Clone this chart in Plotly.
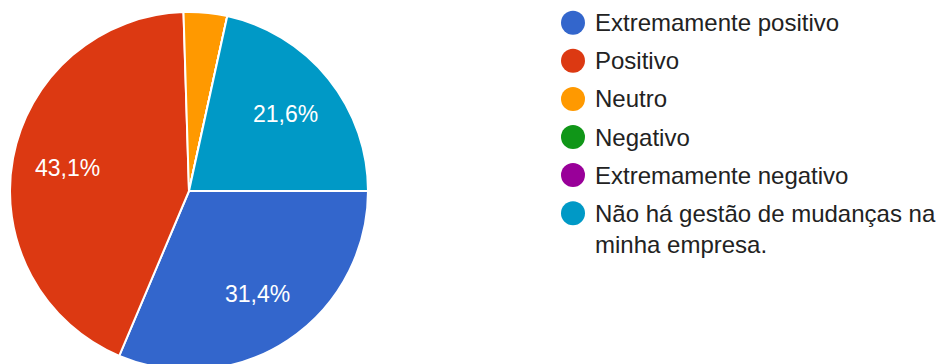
import math
import plotly.graph_objects as go

labels = ["Extremamente positivo", "Positivo", "Neutro", "Negativo",
          "Extremamente negativo", "Não há gestão de mudanças na minha empresa."]
legend_text = ["Extremamente positivo", "Positivo", "Neutro", "Negativo",
               "Extremamente negativo", "Não há gestão de mudanças na<br>minha empresa."]
counts = [16, 22, 2, 0, 0, 11]
colors = ["#3366cc", "#dc3912", "#ff9900", "#109618", "#990099", "#0099c6"]

FONT = "Arial, 'Liberation Sans', sans-serif"

# figure slightly taller than the window: the pie is cut at the bottom like the original
W, H = 938, 372
CX, CY, R = 189, 191, 179

fig = go.Figure()

fig.add_trace(go.Pie(
    labels=labels,
    values=counts,
    sort=False,
    direction="clockwise",
    rotation=90,
    marker=dict(colors=colors, line=dict(color="white", width=2)),
    textinfo="none",
    domain=dict(x=[(CX - R) / W, (CX + R) / W], y=[1 - (CY + R) / H, 1 - (CY - R) / H]),
    showlegend=False,
    hoverinfo="label+percent",
))

# percentage labels at the middle angle of each slice (small slices unlabeled)
total = sum(counts)
annotations = []
cum = 0.0
for c in counts:
    frac = c / total
    mid = (cum + frac / 2) * 2 * math.pi  # clockwise from 3 o'clock
    cum += frac
    if frac < 0.05:
        continue
    px = CX + 0.69 * R * math.cos(mid)
    py = CY + 0.69 * R * math.sin(mid)
    annotations.append(dict(
        x=px / W, y=1 - py / H, xref="paper", yref="paper",
        text=f"{frac * 100:.1f}%".replace(".", ","), showarrow=False,
        xanchor="center", yanchor="middle",
        font=dict(size=23, color="white", family=FONT),
    ))

# custom legend with circle markers
idx = list(range(len(labels)))
MX = (573 - W / 2) / (W / 2)
fig.add_trace(go.Scatter(
    x=[MX] * len(labels),
    y=idx,
    mode="markers",
    marker=dict(color=colors, size=24, symbol="circle", line=dict(width=0)),
    xaxis="x2", yaxis="y2",
    showlegend=False,
    hoverinfo="skip",
))

for i, t in enumerate(legend_text):
    annotations.append(dict(
        x=MX, y=i, xref="x2", yref="y2",
        text=t, showarrow=False, xanchor="left", yanchor="top",
        xshift=20, yshift=15.5, align="left",
        font=dict(size=24, color="#222222", family=FONT),
    ))

ROW0, STEP = 22.7, 38.1
fig.update_layout(
    width=W, height=H,
    margin=dict(l=0, r=0, t=0, b=0),
    paper_bgcolor="white", plot_bgcolor="white",
    separators=",.",
    xaxis2=dict(domain=[0.5, 1], range=[0, 1], visible=False, fixedrange=True),
    yaxis2=dict(domain=[0, 1], range=[(H - ROW0) / STEP, -ROW0 / STEP],
                visible=False, fixedrange=True),
    annotations=annotations,
)

fig.write_html(
    "out.html",
    config={"displayModeBar": False},
    post_script="document.documentElement.style.overflow='hidden';"
                "document.body.style.margin='0';document.body.style.overflow='hidden';",
)
